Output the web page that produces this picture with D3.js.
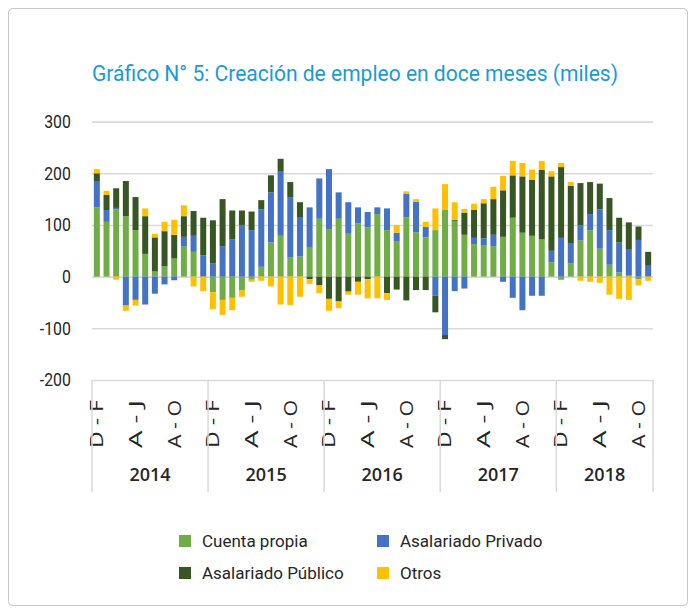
<!DOCTYPE html>
<html>
<head>
<meta charset="utf-8">
<script src="https://cdn.jsdelivr.net/npm/d3@7"></script>
<style>
  body { margin: 0; background: #fff; }
  svg { display: block; }
</style>
</head>
<body>
<script>
// datos: creación de empleo en doce meses (miles), trimestres móviles
var years = ["2014", "2015", "2016", "2017", "2018"];
var barsPerYear = [12, 12, 12, 12, 10];
var months = ["D - F", "E - M", "F - A", "M - M", "A - J", "M - J",
              "J - A", "J - S", "A - O", "S - N", "O - D", "N - E"];
var shownMonths = ["D - F", "A - J", "A - O"];

var seriesNames = ["Cuenta propia", "Asalariado Privado", "Asalariado Público", "Otros"];
var seriesColors = ["#70AD47", "#4472C4", "#375623", "#FFC000"];

var cuentaPropia = [134, 106, 130, 117, 90, 44, 10, 20, 35, 58, 48, 0,
                    -30, -45, -41, -27, -6, 19, 66, 79, 37, 39, 56, 112,
                    92, 112, 83, 103, 95, 121, 90, 69, 115, 86, 76, 90,
                    130, 108, 81, 63, 61, 59, 77, 114, 85, 79, 72, 28,
                    -6, 26, 70, 90, 54, 23, 8, 3, -5, 0];
var asalariadoPrivado = [51, 23, 3, -56, -45, -54, -33, -15, -7, 19, 31, 41,
                         26, 59, 72, 100, 90, 111, 97, 124, 117, 75, 78, 78,
                         116, 51, 61, 31, 30, 13, 42, 16, 45, 59, 20, -37,
                         -113, -28, -23, 12, 13, 22, -10, -41, -65, -37, -37, 22,
                         75, 39, 29, 31, 76, 67, 58, 49, 71, 21];
var asalariadoPublico = [15, 29, 38, 68, 64, 73, 66, 68, 46, 40, 48, 73,
                         83, 91, 56, 28, 36, 18, 33, 25, 29, 30, -5, -17,
                         -43, -48, -29, -10, -5, 0, -32, -25, -46, -26, -26, -32,
                         -8, 2, 43, 54, 68, 69, 90, 82, 109, 108, 135, 144,
                         137, 111, 82, 62, 50, 62, 48, 53, 26, 27];
var otros = [8, 8, -6, -10, -11, 15, 7, 18, 29, 21, -19, -28,
             -33, -29, -24, -12, -4, -8, -19, -54, -55, -39, -9, -15,
             -23, -13, -6, -25, -37, -42, -13, 15, 5, 5, 10, 42,
             49, 34, 7, 12, 8, 24, 28, 28, 26, 20, 17, 10,
             8, 7, -8, -10, -12, -35, -43, -45, -12, -8];

var yTicks = [-200, -100, 0, 100, 200, 300];

(function(){

    var width = 696,
        height = 612;

    var margin = {left: 92, right: 43, top: 121.6, bottom: 232};
    var plotW = width - margin.left - margin.right,
        plotH = height - margin.top - margin.bottom;

    //build category list (year + month) and table rows
    var rows = [];
    years.forEach(function(yr, yi){
        for (var m = 0; m < barsPerYear[yi]; m++){
            rows.push({key: yr + "|" + months[m], year: yr, month: months[m]});
        }
    });
    rows.forEach(function(r, i){
        r[seriesNames[0]] = cuentaPropia[i];
        r[seriesNames[1]] = asalariadoPrivado[i];
        r[seriesNames[2]] = asalariadoPublico[i];
        r[seriesNames[3]] = otros[i];
    });

    var svg = d3.select("body")
        .append("svg")
        .attr("width", width)
        .attr("height", height);

    //outer frame
    svg.append("rect")
        .attr("x", 8.5).attr("y", 8.5)
        .attr("width", 679).attr("height", 597)
        .attr("rx", 4)
        .attr("fill", "none")
        .attr("stroke", "#c8c8c8")
        .attr("stroke-width", 1);

    //title
    svg.append("text")
        .attr("x", margin.left)
        .attr("y", 81)
        .attr("fill", "#1B9AD6")
        .attr("font-family", "Roboto, 'Liberation Sans', sans-serif")
        .attr("font-size", 22)
        .attr("textLength", 526)
        .attr("lengthAdjust", "spacingAndGlyphs")
        .text("Gráfico N° 5: Creación de empleo en doce meses (miles)");

    var g = svg.append("g")
        .attr("transform", "translate(" + margin.left + "," + margin.top + ")");

    var x = d3.scaleBand()
        .domain(rows.map(function(d){ return d.key; }))
        .range([0, plotW])
        .paddingInner(0.38)
        .paddingOuter(0.19);

    var y = d3.scaleLinear()
        .domain([-200, 300])
        .range([plotH, 0]);

    //gridlines + y labels
    var yAxis = g.append("g")
        .call(d3.axisLeft(y)
            .tickValues(yTicks)
            .tickFormat(function(d){ return String(d); })
            .tickSizeInner(-plotW)
            .tickSizeOuter(0)
            .tickPadding(24));
    yAxis.select(".domain").remove();
    yAxis.selectAll(".tick line")
        .attr("stroke", "#d9d9d9")
        .attr("stroke-width", 1.6);
    yAxis.selectAll(".tick text")
        .attr("fill", "#262626")
        .attr("font-family", "Roboto, 'Liberation Sans', sans-serif")
        .attr("font-size", 18)
        .attr("transform", "scale(0.88,1)");

    //stacked bars with positive / negative split
    var stack = d3.stack()
        .keys(seriesNames)
        .offset(d3.stackOffsetDiverging);
    var layers = stack(rows);

    g.selectAll(".layer")
        .data(layers)
        .enter()
        .append("g")
        .attr("class", "layer")
        .attr("fill", function(d, i){ return seriesColors[i]; })
        .selectAll("rect")
        .data(function(d){ return d; })
        .enter()
        .append("rect")
        .attr("x", function(d){ return x(d.data.key); })
        .attr("width", x.bandwidth())
        .attr("y", function(d){ return y(Math.max(d[0], d[1])); })
        .attr("height", function(d){ return Math.abs(y(d[0]) - y(d[1])); });

    //category axis (month labels)
    var xAxis = g.append("g")
        .attr("transform", "translate(0," + plotH + ")")
        .call(d3.axisBottom(x)
            .tickValues(rows.filter(function(d){ return shownMonths.indexOf(d.month) >= 0; })
                .map(function(d){ return d.key; }))
            .tickSize(0)
            .tickFormat(function(k){ return k.split("|")[1]; }));
    xAxis.select(".domain").remove();
    xAxis.selectAll(".tick text")
        .attr("transform", "translate(0,44) rotate(-90)")
        .attr("x", 0)
        .attr("y", 0)
        .attr("dy", "0.35em")
        .attr("text-anchor", "middle")
        .attr("fill", "#262626")
        .attr("font-family", "'Open Sans', sans-serif")
        .attr("font-size", 18)
        .attr("textLength", 48)
        .attr("lengthAdjust", "spacingAndGlyphs");

    //year groups: separators and labels
    var bounds = [];
    var idx = 0;
    years.forEach(function(yr, yi){
        var first = rows[idx].key;
        var last = rows[idx + barsPerYear[yi] - 1].key;
        bounds.push({year: yr,
            x0: yi === 0 ? 0 : x(first) - x.step() * x.paddingInner() / 2,
            x1: yi === years.length - 1 ? plotW : x(last) + x.bandwidth() + x.step() * x.paddingInner() / 2});
        idx += barsPerYear[yi];
    });

    var sepX = bounds.map(function(b){ return b.x0; }).concat([plotW]);
    g.selectAll(".sep")
        .data(sepX)
        .enter()
        .append("line")
        .attr("class", "sep")
        .attr("x1", function(d){ return d; })
        .attr("x2", function(d){ return d; })
        .attr("y1", plotH)
        .attr("y2", plotH + 112)
        .attr("stroke", "#d9d9d9")
        .attr("stroke-width", 1.5);

    g.selectAll(".yearLabel")
        .data(bounds)
        .enter()
        .append("text")
        .attr("class", "yearLabel")
        .attr("x", function(d){ return (d.x0 + d.x1) / 2; })
        .attr("y", plotH + 101)
        .attr("text-anchor", "middle")
        .attr("fill", "#262626")
        .attr("font-family", "'Open Sans', sans-serif")
        .attr("font-weight", 600)
        .attr("font-size", 18)
        .text(function(d){ return d.year; });

    //legend
    var legendPos = [[179, 541], [377, 541], [179, 573], [377, 573]];
    var legend = svg.selectAll(".legend")
        .data(seriesNames)
        .enter()
        .append("g")
        .attr("class", "legend")
        .attr("transform", function(d, i){
            return "translate(" + legendPos[i][0] + "," + legendPos[i][1] + ")";
        });
    legend.append("rect")
        .attr("x", 0).attr("y", -6)
        .attr("width", 12).attr("height", 12)
        .attr("fill", function(d, i){ return seriesColors[i]; });
    legend.append("text")
        .attr("x", 23)
        .attr("y", 0)
        .attr("dy", "0.36em")
        .attr("fill", "#262626")
        .attr("font-family", "Roboto, 'Liberation Sans', sans-serif")
        .attr("font-size", 17)
        .text(function(d){ return d; });

})();
</script>
</body>
</html>
